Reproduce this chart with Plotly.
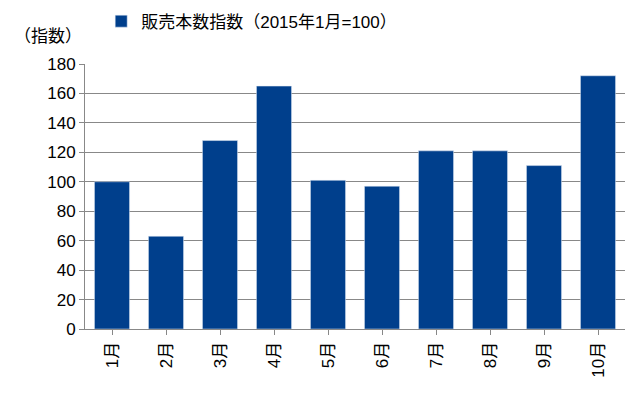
import plotly.graph_objects as go

months = ["1月","2月","3月","4月","5月","6月","7月","8月","9月","10月"]
values = [100, 63, 128, 165, 101, 97, 121, 121, 111, 172]
series_name = "販売本数指数（2015年1月=100）"

fig = go.Figure(go.Bar(x=months, y=values, name=series_name, marker_color="#003F8C", width=0.65))
font = "Liberation Sans, Noto Sans CJK JP"
fig.update_layout(
    width=640, height=408, margin=dict(l=77, r=23, t=56, b=87, autoexpand=False),
    plot_bgcolor="white", paper_bgcolor="white",
    font=dict(family=font, size=17, color="black"),
    showlegend=True,
    legend=dict(x=0.03, y=1.16, xanchor="left", yanchor="middle", orientation="h", font=dict(size=17)),
    xaxis=dict(tickangle=-90, showline=True, linecolor="#888", ticks="outside", tickcolor="#888"),
    yaxis=dict(range=[0,180], dtick=20, showline=True, linecolor="#888", ticks="outside",
               tickcolor="#888", gridcolor="#888", gridwidth=1, zeroline=False),
    annotations=[dict(text="（指数）", xref="paper", yref="paper", x=-0.135, y=1.06,
                      xanchor="left", yanchor="bottom", showarrow=False, font=dict(size=17))],
)
fig.write_html("out.html")
